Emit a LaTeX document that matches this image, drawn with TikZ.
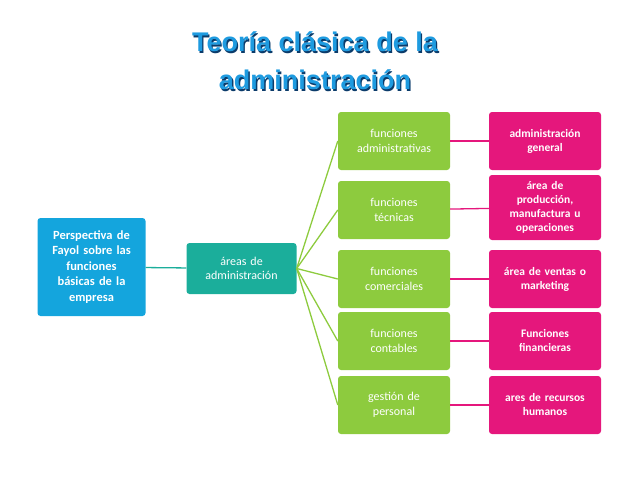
\documentclass[tikz,border=0pt]{standalone}
\usepackage{fontspec}
\setmainfont{Carlito}
\newfontfamily\titlefont{Liberation Sans}
\usetikzlibrary{positioning}
\definecolor{bluebox}{HTML}{14A5DD}
\definecolor{tealbox}{HTML}{1BAE9B}
\definecolor{greenbox}{HTML}{8DCB3E}
\definecolor{pinkbox}{HTML}{E5177C}
\definecolor{titleblue}{HTML}{1E9BE0}
\definecolor{titledark}{HTML}{0B3B6A}
\tikzset{
  box/.style={rounded corners=3pt, text=white, align=center, font=\fontsize{12}{14.5}\selectfont, inner sep=2pt},
  bluenode/.style={box, fill=bluebox, minimum width=107pt, minimum height=98pt, text width=104pt, font=\bfseries\fontsize{12.5}{15.5}\selectfont},
  tealnode/.style={box, fill=tealbox, minimum width=109pt, minimum height=51pt, text width=106pt},
  greennode/.style={box, fill=greenbox, minimum width=112pt, minimum height=58pt, text width=108pt},
  pinknode/.style={box, fill=pinkbox, minimum width=110pt, minimum height=58pt, text width=108pt, font=\bfseries\fontsize{11.5}{14}\selectfont},
  titletext/.style={align=center, font=\titlefont\bfseries\fontsize{27}{38}\selectfont},
  link/.style={line width=1.3pt}
}
\begin{document}
\begin{tikzpicture}[x=1pt,y=-1pt]
\useasboundingbox (0,0) rectangle (638,479);

% title
\node[titletext, text=titledark] at (316.3,62.3) {Teoría clásica de la\\administración};
\node (title) [titletext, text=titleblue] at (315,61) {Teoría clásica de la\\administración};

% main boxes
\node (fayol) [bluenode] at (91.5,267) {Perspectiva de\\Fayol sobre las\\funciones\\básicas de la\\empresa};
\node (areas) [tealnode] at (241.5,268.5) {áreas de\\administración};

% branches
\node (fadm) [greennode] at (394,141) {funciones\\administrativas};
\node (ftec) [greennode] at (394,210) {funciones\\técnicas};
\node (fcom) [greennode] at (394,279) {funciones\\comerciales};
\node (fcon) [greennode] at (394,341) {funciones\\contables};
\node (fper) [greennode] at (394,405) {gestión de\\personal};

\node (padm) [pinknode] at (545,141) {administración\\general};
\node (ptec) [pinknode, minimum height=65pt] at (545,207.5) {área de\\producción,\\manufactura u\\operaciones};
\node (pcom) [pinknode] at (545,279) {área de ventas o\\marketing};
\node (pcon) [pinknode] at (545,341) {Funciones\\financieras};
\node (pper) [pinknode] at (545,405) {ares de recursos\\humanos};

% connectors
\draw[link, draw=tealbox] (fayol) -- (areas);
\foreach \g/\p in {fadm/padm, ftec/ptec, fcom/pcom, fcon/pcon, fper/pper}{
  \draw[link, draw=greenbox] (areas.east) -- (\g.west);
  \draw[link, draw=pinkbox] (\g) -- (\p);
}
\end{tikzpicture}
\end{document}
